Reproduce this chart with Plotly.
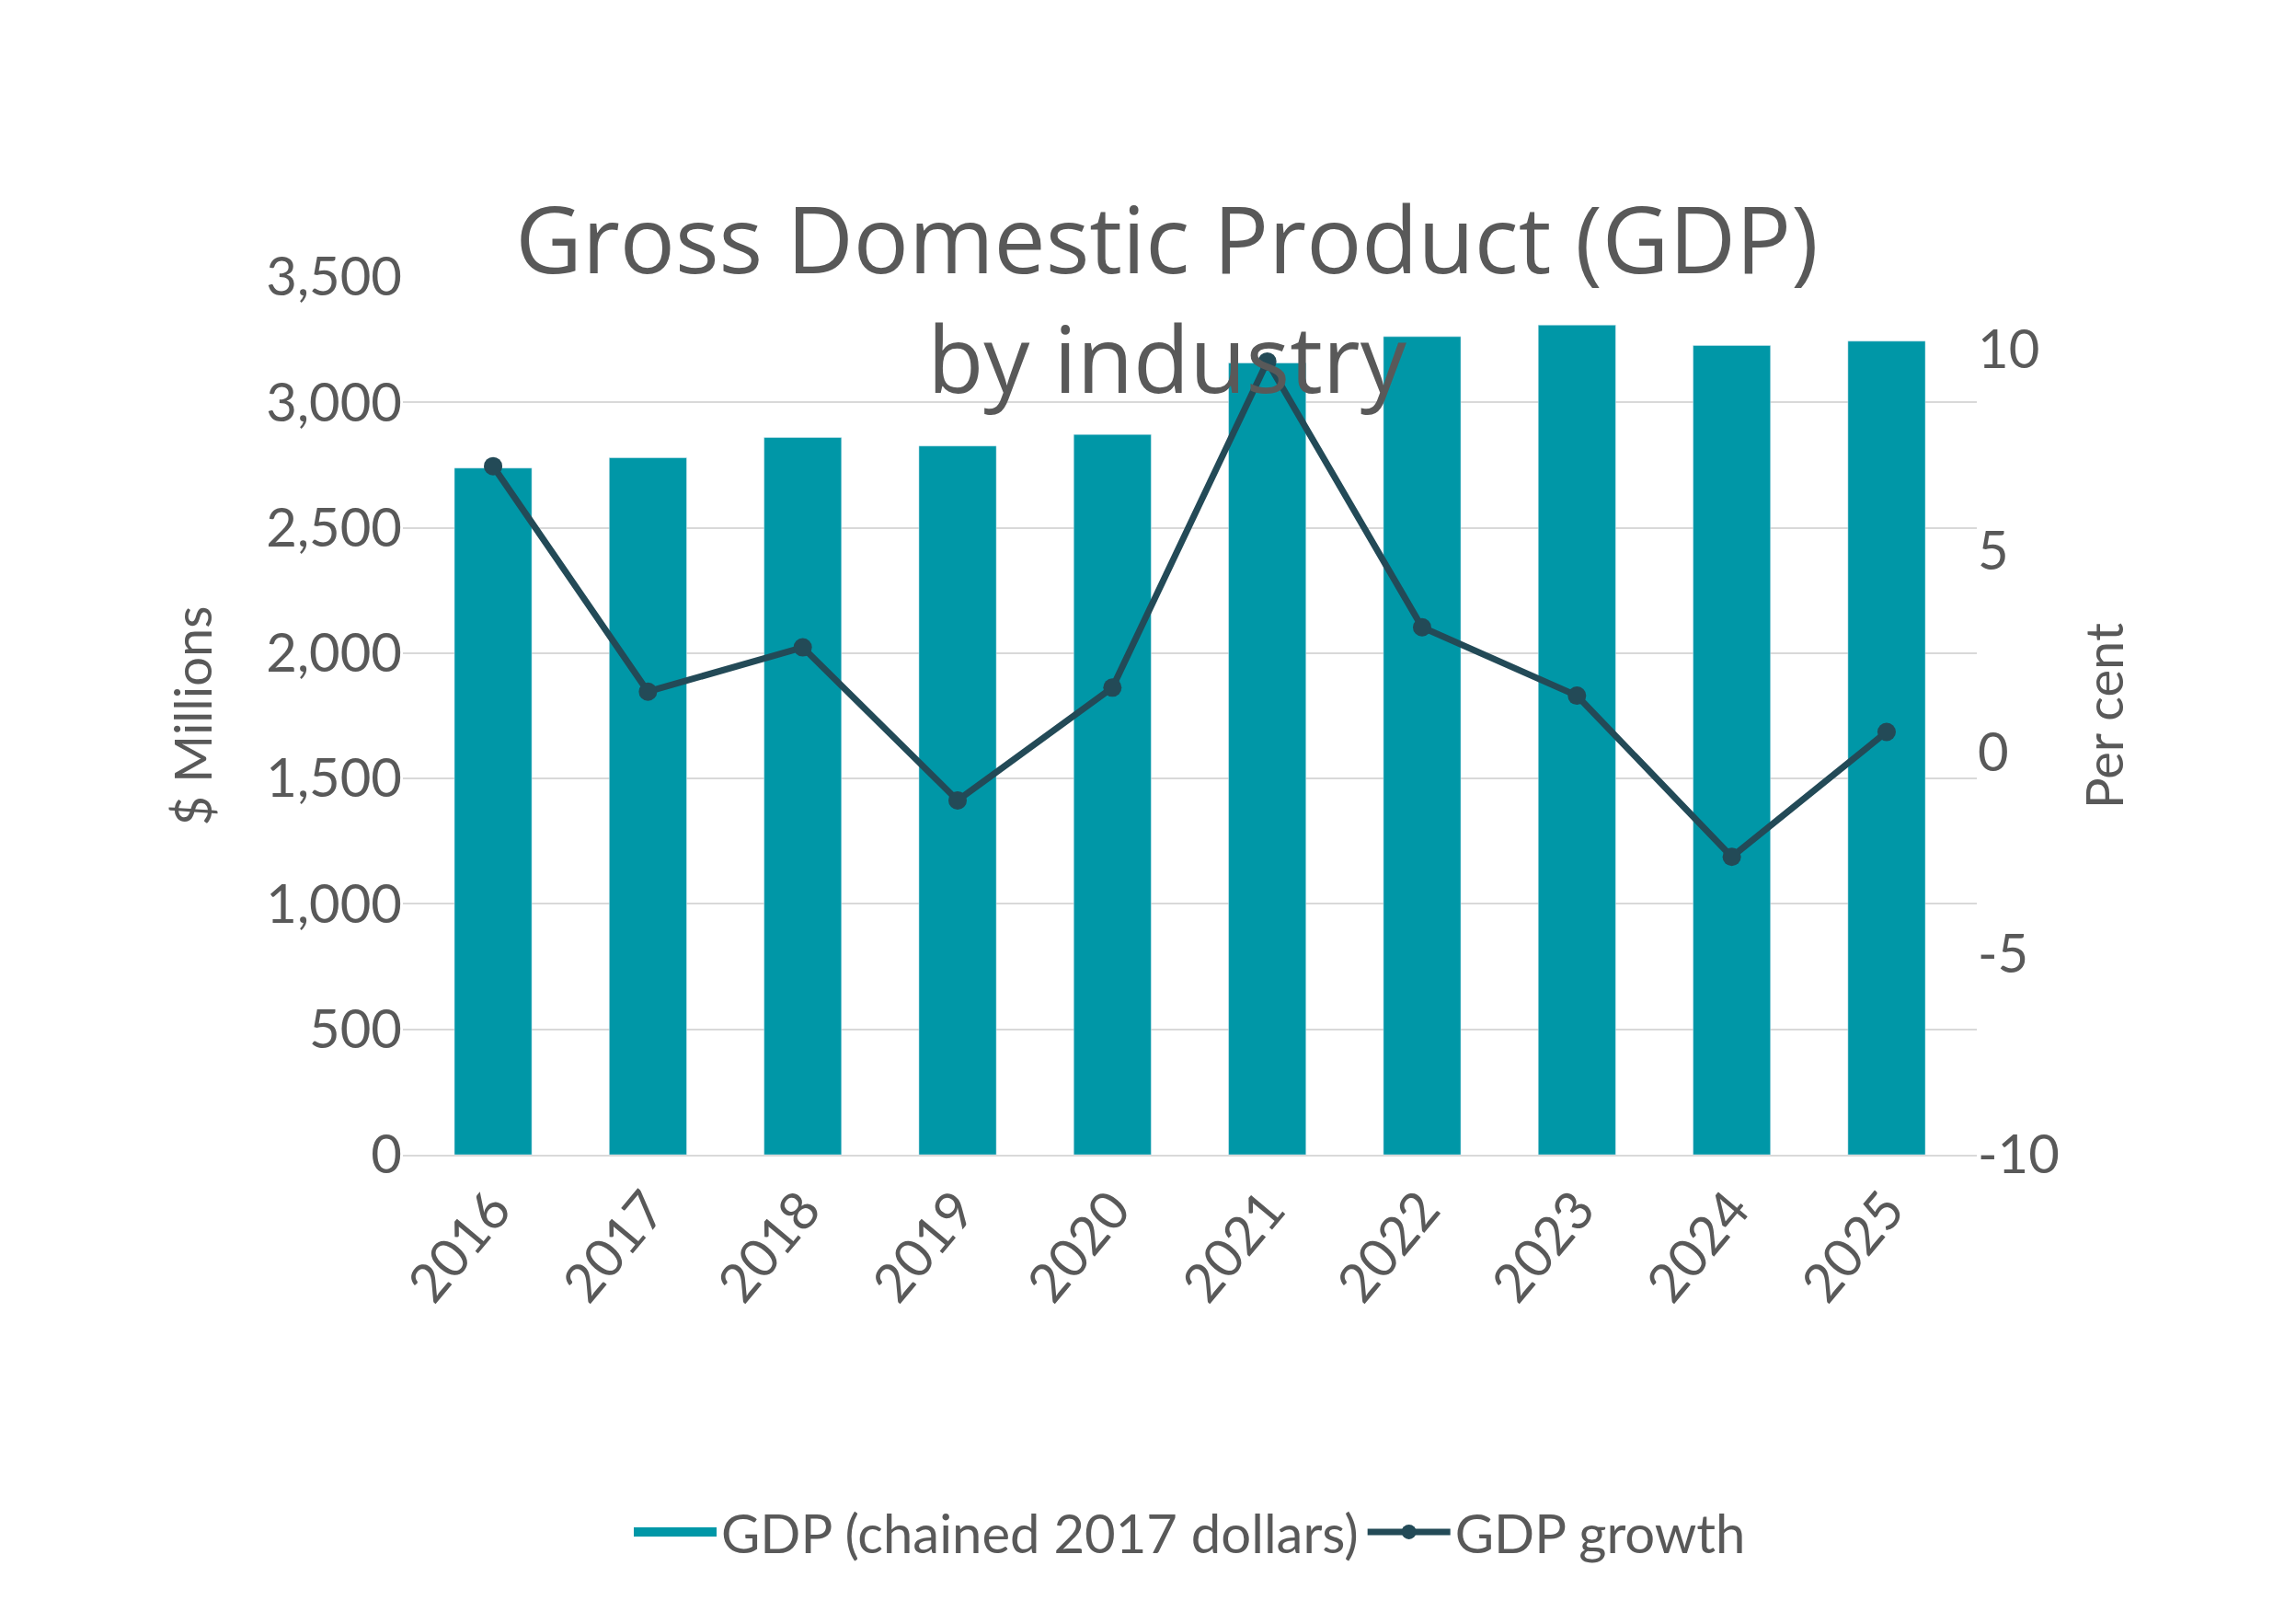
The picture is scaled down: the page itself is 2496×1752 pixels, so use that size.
import plotly.graph_objects as go

annees = ["2016", "2017", "2018", "2019", "2020", "2021", "2022", "2023", "2024", "2025"]
pib = [2738, 2779, 2860, 2826, 2872, 3157, 3262, 3308, 3227, 3244]
croissance = [7.1, 1.5, 2.6, -1.2, 1.6, 9.7, 3.1, 1.4, -2.6, 0.5]
ticks_pct = [-10, -5, 0, 5, 10]

gris = "#595959"
bleu = "#0097A7"

fig = go.Figure()
fig.add_trace(go.Bar(x=annees, y=pib, name="GDP (chained 2017 dollars)",
                     marker_color=bleu, yaxis="y", showlegend=False))
# entrée de légende avec un gros carré comme dans Excel
fig.add_trace(go.Scatter(x=[None], y=[None], name="GDP (chained 2017 dollars)",
                         mode="lines", line=dict(color=bleu, width=40)))
fig.add_trace(go.Scatter(x=annees, y=croissance, name="GDP growth", yaxis="y2",
                         mode="lines+markers",
                         line=dict(color="#234A57", width=7),
                         marker=dict(size=20, color="#234A57")))

fig.update_layout(
    width=2496, height=1752,
    paper_bgcolor="white", plot_bgcolor="white",
    font=dict(family="Lato", color=gris, size=56),
    title=dict(text="Gross Domestic Product (GDP)<br>by industry", x=0.505, xanchor="center",
               y=0.835, yanchor="bottom", font=dict(family="Open Sans", size=100, color=gris)),
    margin=dict(l=430, r=355, t=293, b=505),
    bargap=0.5,
    showlegend=True,
    legend=dict(orientation="h", x=0.5, xanchor="center", y=-0.43, yanchor="middle",
                font=dict(size=58), itemwidth=90),
    xaxis=dict(tickangle=-50, showline=True, linecolor="#D9D9D9", linewidth=2,
               tickfont=dict(size=58)),
    yaxis=dict(range=[0, 3500], dtick=500, tickformat=",", gridcolor="#D9D9D9", gridwidth=2,
               title=dict(text="$ Millions", font=dict(size=56), standoff=40),
               tickfont=dict(size=58), zeroline=False),
    yaxis2=dict(range=[-10, 11.8], tickvals=ticks_pct, ticktext=[str(t) for t in ticks_pct],
                overlaying="y", side="right", showgrid=False, zeroline=False,
                title=dict(text="Per cent", font=dict(size=56), standoff=30),
                tickfont=dict(size=58)),
)

fig.write_html("out.html")
